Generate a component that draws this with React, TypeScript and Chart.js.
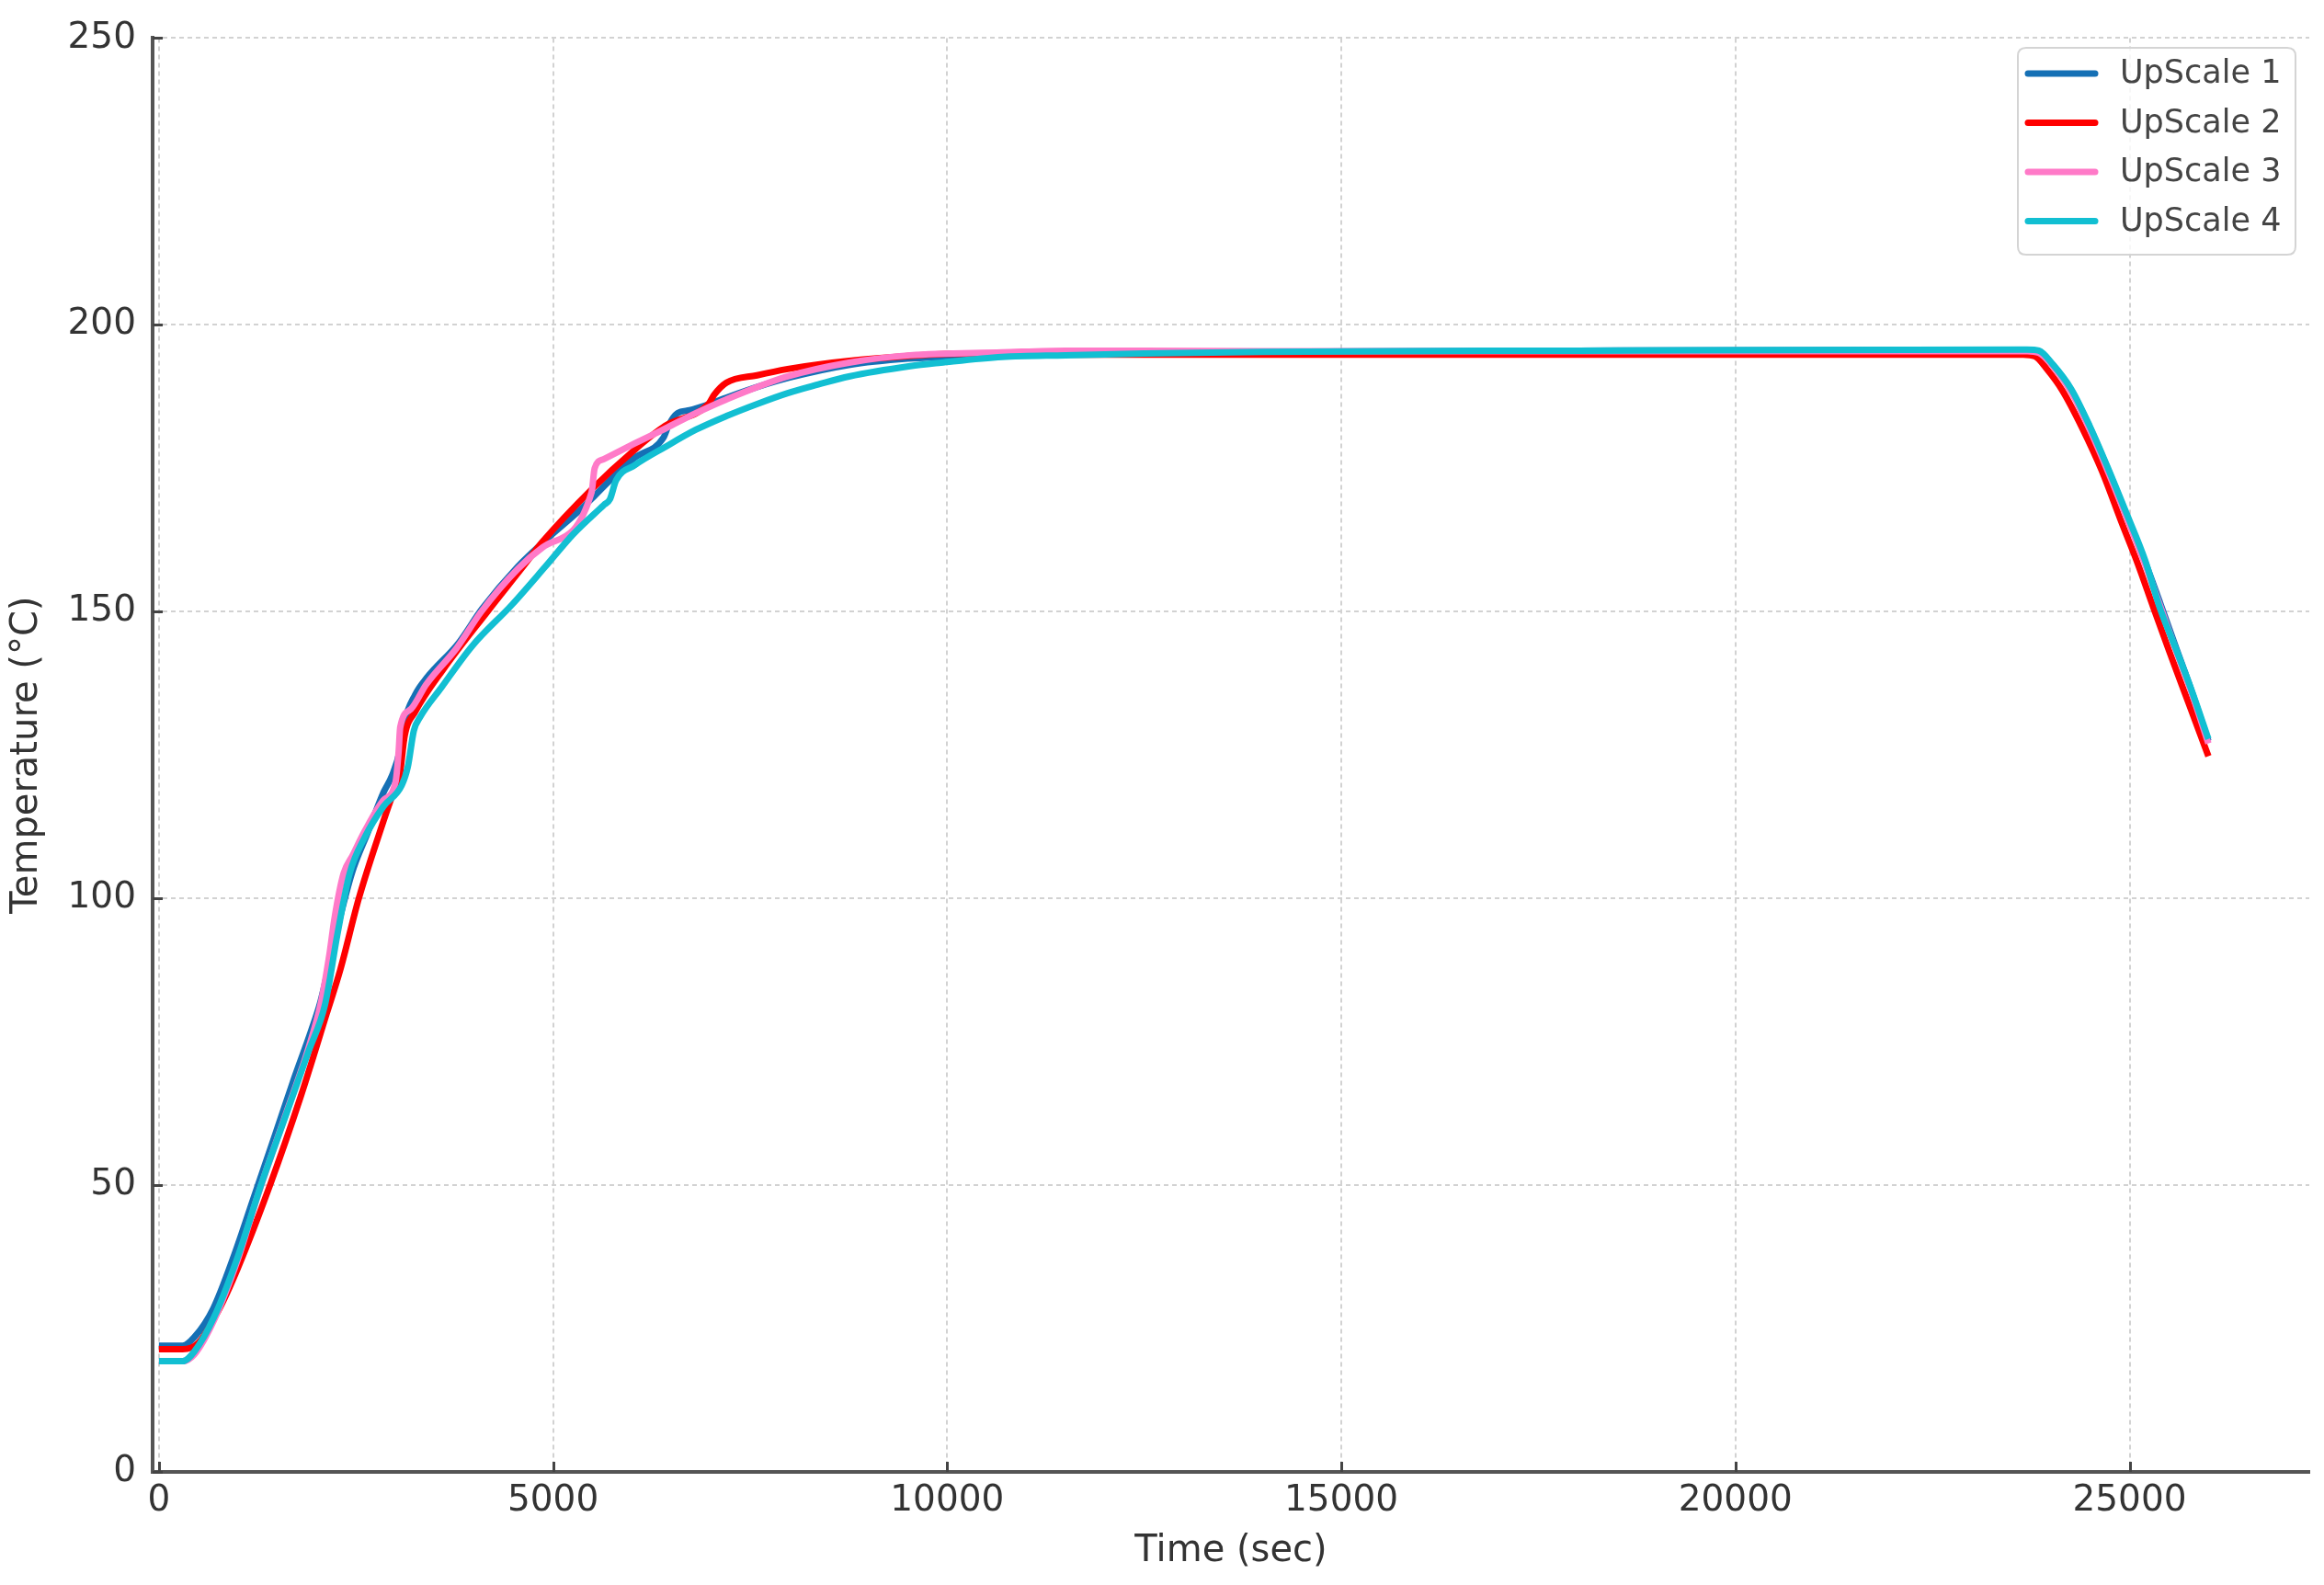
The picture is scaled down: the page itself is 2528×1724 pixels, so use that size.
import React, { useEffect, useRef } from "react";
import { Chart, registerables } from "chart.js";

Chart.register(...registerables);

// ---- Data ----
const SERIES_LABELS = ["UpScale 1", "UpScale 2", "UpScale 3", "UpScale 4"];
const SERIES_COLORS = ["#1570b5", "#ff0000", "#ff7ac8", "#12bfd2"];

const UPSCALE1_TIME = [0, 300, 450, 690, 960, 1195, 1467, 1700, 1933, 2050, 2250, 2450, 2650, 2850, 2960, 3060, 3110, 3250, 3400, 3800, 4100, 4550, 4950, 5300, 5528, 5722, 6034, 6400, 6470, 6580, 6733, 6966, 7200, 7600, 8000, 8750, 9500, 10000, 11000, 12000, 14000, 18000, 22000, 23700, 23850, 24027, 24260, 24493, 24727, 24980, 25193, 25388, 25582, 25776, 26000];
const UPSCALE1_TEMP = [22.0, 22.0, 23.5, 28.5, 38.0, 47.5, 58.5, 68.0, 77.0, 82.0, 94.0, 104.5, 111.5, 118.5, 121.5, 126.0, 130.5, 135.5, 138.5, 144.5, 150.5, 157.8, 163.0, 167.2, 170.2, 172.9, 176.8, 180.3, 182.6, 184.6, 185.1, 186.1, 187.3, 189.2, 190.8, 193.0, 194.1, 194.4, 194.9, 195.1, 195.3, 195.5, 195.6, 195.6, 195.3, 193.0, 188.6, 182.2, 174.8, 166.2, 158.8, 151.5, 144.0, 136.6, 127.4];

const UPSCALE2_TIME = [0, 300, 500, 750, 1000, 1409, 1800, 2128, 2300, 2536, 2808, 2950, 3050, 3120, 3250, 3600, 4168, 4600, 4868, 5489, 6034, 6422, 6966, 7044, 7200, 7588, 7977, 8365, 9143, 9920, 10700, 12000, 16000, 23650, 23800, 23950, 24150, 24400, 24650, 24900, 25100, 25300, 25500, 25750, 26000];
const UPSCALE2_TEMP = [21.4, 21.4, 22.5, 28.0, 35.5, 50.0, 65.5, 79.9, 87.5, 100.0, 111.8, 117.5, 121.0, 128.5, 132.5, 139.8, 150.0, 157.5, 162.2, 171.3, 178.2, 182.4, 186.1, 187.8, 189.9, 191.2, 192.3, 193.1, 194.2, 194.9, 195.0, 194.8, 194.8, 194.8, 194.5, 192.3, 188.5, 182.0, 174.5, 165.5, 158.5, 150.8, 143.2, 134.0, 124.8];

const UPSCALE3_TIME = [0, 300, 450, 700, 1000, 1250, 1600, 1900, 2050, 2166, 2225, 2342, 2458, 2614, 2847, 3002, 3041, 3061, 3197, 3391, 3780, 4090, 4556, 4868, 5489, 5528, 5645, 6034, 6422, 6811, 7200, 7977, 8754, 9531, 10697, 11500, 12500, 14000, 23700, 23850, 24027, 24260, 24493, 24727, 24980, 25193, 25388, 25582, 25776, 26000];
const UPSCALE3_TEMP = [19.3, 19.3, 20.5, 26.5, 37.0, 48.0, 62.0, 74.0, 81.5, 90.5, 96.3, 104.3, 107.5, 111.8, 117.1, 120.3, 125.6, 129.8, 133.0, 137.3, 143.7, 150.0, 157.5, 161.2, 170.8, 175.0, 176.6, 179.3, 181.9, 184.6, 187.0, 191.0, 193.4, 194.7, 195.2, 195.5, 195.5, 195.4, 195.4, 195.1, 192.8, 188.3, 181.8, 174.4, 165.8, 158.4, 151.0, 143.5, 136.3, 127.0];

const UPSCALE4_TIME = [0, 300, 450, 700, 1000, 1295, 1600, 1900, 2108, 2264, 2419, 2614, 2847, 3080, 3157, 3235, 3313, 3585, 3974, 4479, 4900, 5256, 5645, 5722, 5800, 6034, 6422, 6811, 7200, 7588, 7977, 8365, 8754, 9531, 9920, 10697, 11500, 12500, 14000, 18000, 23700, 23850, 24027, 24260, 24493, 24727, 24980, 25193, 25388, 25582, 25776, 26000];
const UPSCALE4_TEMP = [19.3, 19.3, 21.0, 27.0, 37.5, 50.0, 61.8, 73.4, 81.5, 93.7, 104.3, 110.7, 116.0, 119.7, 122.9, 129.3, 131.6, 136.8, 144.0, 151.2, 157.8, 163.5, 168.6, 169.6, 172.9, 175.5, 178.7, 181.7, 184.1, 186.2, 188.1, 189.6, 191.0, 192.8, 193.4, 194.4, 194.7, 195.0, 195.3, 195.5, 195.7, 195.5, 193.1, 188.8, 182.4, 175.0, 166.5, 159.1, 150.5, 143.7, 136.7, 127.8];

const SERIES_TIMES = [UPSCALE1_TIME, UPSCALE2_TIME, UPSCALE3_TIME, UPSCALE4_TIME];
const SERIES_TEMPS = [UPSCALE1_TEMP, UPSCALE2_TEMP, UPSCALE3_TEMP, UPSCALE4_TEMP];

const X_TICKS = [0, 5000, 10000, 15000, 20000, 25000];
const X_TICK_LABELS = ["0", "5000", "10000", "15000", "20000", "25000"];
const Y_TICKS = [0, 50, 100, 150, 200, 250];
const Y_TICK_LABELS = ["0", "50", "100", "150", "200", "250"];

const X_TITLE = "Time (sec)";
const Y_TITLE = "Temperature (°C)";

const X_MIN = -80;
const X_MAX = 27280;
const Y_MIN = 0;
const Y_MAX = 250;

const FONT = "'DejaVu Sans', 'Noto Sans', sans-serif";
const TEXT_COLOR = "#333333";

// Inward tick marks (matplotlib-like)
const tickMarksPlugin = {
  id: "tickMarks",
  afterDraw(chart: any) {
    const { ctx, chartArea } = chart;
    const xs = chart.scales.x;
    const ys = chart.scales.y;
    ctx.save();
    ctx.strokeStyle = "#444";
    ctx.lineWidth = 3;
    ctx.beginPath();
    X_TICKS.forEach((v) => {
      const px = Math.round(xs.getPixelForValue(v)) + 0.5;
      ctx.moveTo(px, chartArea.bottom);
      ctx.lineTo(px, chartArea.bottom - 11);
    });
    Y_TICKS.forEach((v) => {
      const py = Math.round(ys.getPixelForValue(v)) + 0.5;
      ctx.moveTo(chartArea.left, py);
      ctx.lineTo(chartArea.left + 11, py);
    });
    ctx.stroke();
    ctx.restore();
  },
};

// Legend box in the top-right corner, drawn from the datasets
const legendBoxPlugin = {
  id: "legendBox",
  afterDraw(chart: any) {
    const { ctx } = chart;
    const boxX = 2195;
    const boxY = 52;
    const boxW = 302;
    const boxH = 225;
    const r = 9;
    ctx.save();
    ctx.beginPath();
    ctx.moveTo(boxX + r, boxY);
    ctx.lineTo(boxX + boxW - r, boxY);
    ctx.quadraticCurveTo(boxX + boxW, boxY, boxX + boxW, boxY + r);
    ctx.lineTo(boxX + boxW, boxY + boxH - r);
    ctx.quadraticCurveTo(boxX + boxW, boxY + boxH, boxX + boxW - r, boxY + boxH);
    ctx.lineTo(boxX + r, boxY + boxH);
    ctx.quadraticCurveTo(boxX, boxY + boxH, boxX, boxY + boxH - r);
    ctx.lineTo(boxX, boxY + r);
    ctx.quadraticCurveTo(boxX, boxY, boxX + r, boxY);
    ctx.closePath();
    ctx.fillStyle = "rgba(255,255,255,0.82)";
    ctx.fill();
    ctx.strokeStyle = "#d4d4d4";
    ctx.lineWidth = 2;
    ctx.stroke();

    chart.data.datasets.forEach((ds: any, i: number) => {
      const y = 80 + i * 53.5;
      ctx.beginPath();
      ctx.strokeStyle = ds.borderColor;
      ctx.lineWidth = 7;
      ctx.lineCap = "round";
      ctx.moveTo(2206, y);
      ctx.lineTo(2279, y);
      ctx.stroke();
      ctx.fillStyle = "#444";
      ctx.font = `35px ${FONT}`;
      ctx.textAlign = "left";
      ctx.textBaseline = "middle";
      ctx.fillText(ds.label, 2306, y + 1);
    });
    ctx.restore();
  },
};

export default function App() {
  const canvasRef = useRef<HTMLCanvasElement | null>(null);

  useEffect(() => {
    if (!canvasRef.current) return;
    Chart.defaults.font.family = FONT;

    const datasets = SERIES_LABELS.map((label, i) => ({
      label,
      data: SERIES_TIMES[i].map((t, j) => ({ x: t, y: SERIES_TEMPS[i][j] })),
      borderColor: SERIES_COLORS[i],
      backgroundColor: SERIES_COLORS[i],
      borderWidth: 7,
      pointRadius: 0,
      fill: false,
      cubicInterpolationMode: "monotone" as const,
      borderJoinStyle: "round" as const,
      borderCapStyle: "butt" as const,
      order: SERIES_LABELS.length - i,
    }));

    const chart = new Chart(canvasRef.current, {
      type: "line",
      data: { datasets },
      options: {
        animation: false,
        responsive: false,
        devicePixelRatio: 1,
        layout: { padding: { top: 35, right: 16, left: 0, bottom: 0 } },
        plugins: {
          legend: { display: false },
          tooltip: { enabled: false },
        },
        scales: {
          x: {
            type: "linear",
            min: X_MIN,
            max: X_MAX,
            afterBuildTicks: (s: any) => {
              s.ticks = X_TICKS.map((v) => ({ value: v }));
            },
            afterFit: (s: any) => {
              s.height = 123;
            },
            ticks: {
              autoSkip: false,
              maxRotation: 0,
              padding: 8,
              color: TEXT_COLOR,
              font: { size: 39, family: FONT },
              callback: (_v: any, idx: number) => X_TICK_LABELS[idx],
            },
            grid: { color: "#d2d2d2", lineWidth: 2, drawTicks: false },
            border: { display: true, color: "#555", width: 4, dash: [5, 4] },
            title: {
              display: true,
              text: X_TITLE,
              color: TEXT_COLOR,
              font: { size: 40, family: FONT },
              padding: { top: 0, bottom: 12 },
            },
          },
          y: {
            type: "linear",
            min: Y_MIN,
            max: Y_MAX,
            afterBuildTicks: (s: any) => {
              s.ticks = Y_TICKS.map((v) => ({ value: v }));
            },
            afterFit: (s: any) => {
              s.width = 166;
            },
            ticks: {
              padding: 18,
              color: TEXT_COLOR,
              font: { size: 39, family: FONT },
              callback: (_v: any, idx: number) => Y_TICK_LABELS[idx],
            },
            grid: { color: "#d2d2d2", lineWidth: 2, drawTicks: false },
            border: { display: true, color: "#555", width: 4, dash: [5, 4] },
            title: {
              display: true,
              text: Y_TITLE,
              color: TEXT_COLOR,
              font: { size: 40, family: FONT },
              padding: { top: 6, bottom: 0 },
            },
          },
        },
      },
      plugins: [tickMarksPlugin, legendBoxPlugin],
    } as any);

    return () => chart.destroy();
  }, []);

  return (
    <div style={{ position: "absolute", left: 0, top: 0, width: 2528, height: 1724, background: "#fff" }}>
      <canvas ref={canvasRef} width={2528} height={1724} style={{ display: "block", width: 2528, height: 1724 }} />
    </div>
  );
}
